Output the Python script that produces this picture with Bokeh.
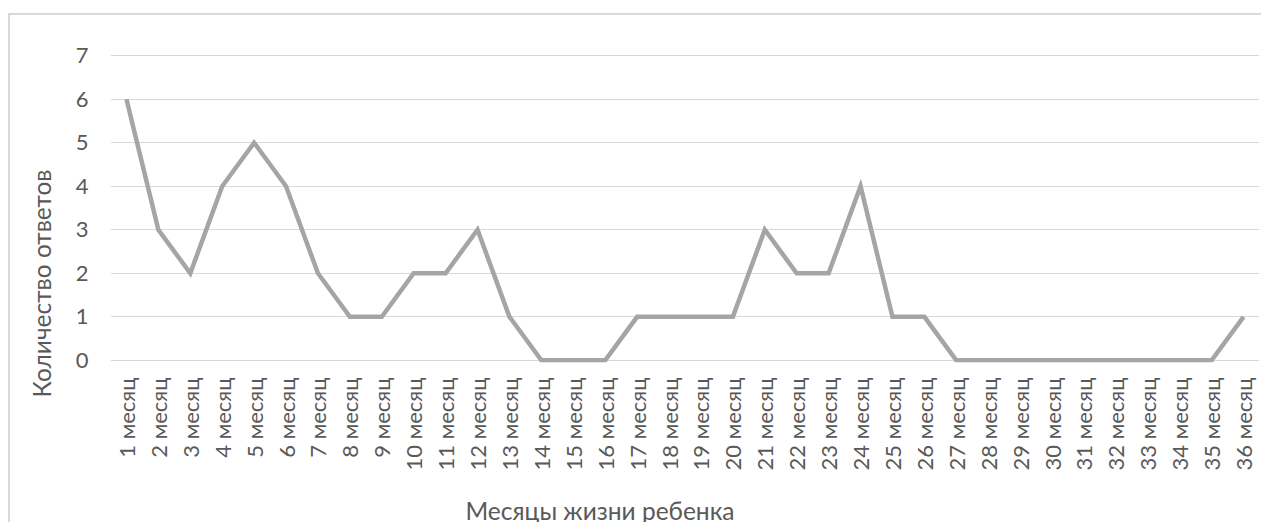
import math
from bokeh.plotting import figure
from bokeh.models import FactorRange, Range1d, FixedTicker, Title
from bokeh.embed import file_html
from bokeh.resources import INLINE

months = [f"{i} месяц" for i in range(1, 37)]
answers = [6, 3, 2, 4, 5, 4, 2, 1, 1, 2, 2, 3, 1, 0, 0, 0, 1, 1, 1, 1,
           3, 2, 2, 4, 1, 1, 0, 0, 0, 0, 0, 0, 0, 0, 0, 1]
y_ticks = [0, 1, 2, 3, 4, 5, 6, 7]
x_title = "Месяцы жизни ребенка"
y_title = "Количество ответов"

FONT = "Lato"
TXT = "#595959"

p = figure(width=1253, height=509, output_backend="svg", toolbar_location=None,
           x_range=FactorRange(*months, range_padding=0),
           y_range=Range1d(-0.05, 7.05),
           min_border_left=100, min_border_right=4, min_border_top=38, min_border_bottom=162)
p.styles = {"margin-left": "8px", "margin-top": "13px",
            "border-left": "2px solid #d9d9d9", "border-top": "2px solid #d9d9d9"}
p.outline_line_color = None
p.background_fill_color = "white"
p.border_fill_color = "white"

p.line(months, answers, line_color="#a5a5a5", line_width=4.5, line_join="miter")

p.xgrid.grid_line_color = None
p.ygrid.grid_line_color = "#d9d9d9"
p.ygrid.grid_line_width = 1.2
p.yaxis.ticker = FixedTicker(ticks=y_ticks)

for ax in (p.xaxis[0], p.yaxis[0]):
    ax.axis_line_color = None
    ax.major_tick_line_color = None
    ax.minor_tick_line_color = None
    ax.major_tick_in = 0
    ax.major_tick_out = 0
    ax.major_label_text_font = FONT
    ax.major_label_text_color = TXT
    ax.major_label_text_font_size = "22px"

p.xaxis.major_label_orientation = math.pi / 2
p.xaxis.major_label_standoff = 15
p.yaxis.major_label_standoff = 22

# spacer between x tick labels and x title
p.add_layout(Title(text=" ", text_font_size="1px", standoff=17), "below")
p.add_layout(Title(text=x_title, align="left", offset=355, vertical_align="bottom",
                   standoff=0, text_font=FONT, text_font_size="24.5px",
                   text_font_style="normal", text_color=TXT), "below")
p.add_layout(Title(text=y_title, align="left", offset=-35, vertical_align="top",
                   standoff=30, text_font=FONT, text_font_size="24.5px",
                   text_font_style="normal", text_color=TXT), "left")

open("out.html", "w").write(file_html(p, INLINE))
